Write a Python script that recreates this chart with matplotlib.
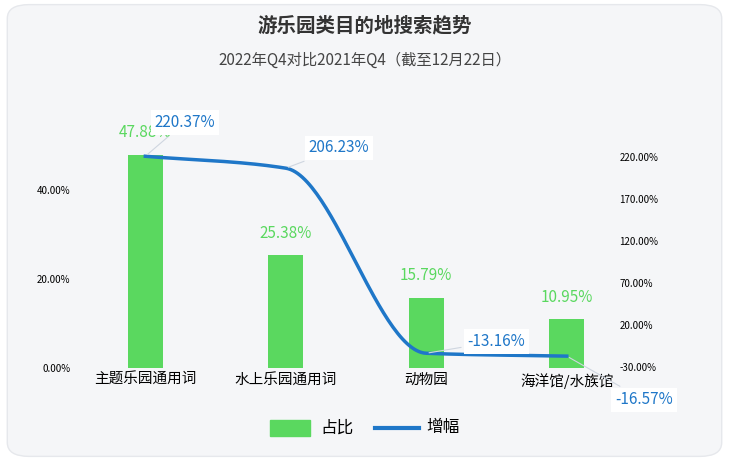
import numpy as np
import matplotlib.pyplot as plt
from matplotlib.patches import FancyBboxPatch

plt.rcParams['font.family'] = ['Noto Sans CJK SC', 'DejaVu Sans']

categories = ['主题乐园通用词', '水上乐园通用词', '动物园', '海洋馆/水族馆']
share = [47.88, 25.38, 15.79, 10.95]
growth = [220.37, 206.23, -13.16, -16.57]
left_ticks = [0, 20, 40]
right_ticks = [-30, 20, 70, 120, 170, 220]

green = '#5ad85f'
blue = '#1f77c8'

fig = plt.figure(figsize=(7.29, 4.61), dpi=100)
fig.patch.set_facecolor('white')
fig.patches.append(FancyBboxPatch((0.01, 0.01), 0.98, 0.98, boxstyle='round,pad=0,rounding_size=0.03',
                                  transform=fig.transFigure, fc='#f5f6f8', ec='#e6e8ec', zorder=-10))
ax = fig.add_axes([0.103, 0.202, 0.74, 0.473])
ax.set_facecolor('none')
x = np.arange(len(categories))
ax.bar(x, share, width=0.25, color=green, zorder=2)
ax.set_xlim(-0.5, 3.34)
ax.set_ylim(0, 49)
ax.set_yticks(left_ticks)
ax.set_yticklabels([f'{t:.2f}%' for t in left_ticks], fontsize=7)
ax.set_xticks(x)
ax.set_xticklabels(categories, fontsize=10.5)
for s in ax.spines.values():
    s.set_visible(False)
ax.tick_params(length=0)
for xi, v in zip(x, share):
    ax.text(xi, v + 3, f'{v:.2f}%', ha='center', va='bottom', color=green, fontsize=11)

ax2 = ax.twinx()
ax2.set_ylim(-30.5, 228)
ax2.set_yticks(right_ticks)
ax2.set_yticklabels([f'{t:.2f}%' for t in right_ticks], fontsize=7)
for s in ax2.spines.values():
    s.set_visible(False)
ax2.tick_params(length=0)

# monotone cubic (Fritsch-Carlson) interpolation for the smooth line
y = np.array(growth, dtype=float)
xf = x.astype(float)
dk = np.diff(y) / np.diff(xf)
m = np.zeros(len(y))
m[0], m[-1] = dk[0], dk[-1]
for i in range(1, len(y) - 1):
    m[i] = 0 if dk[i - 1] * dk[i] <= 0 else 2 / (1 / dk[i - 1] + 1 / dk[i])
xs, ys = [], []
for i in range(len(y) - 1):
    t = np.linspace(0, 1, 60)
    h00 = 2 * t**3 - 3 * t**2 + 1; h10 = t**3 - 2 * t**2 + t
    h01 = -2 * t**3 + 3 * t**2; h11 = t**3 - t**2
    xs.append(xf[i] + t)
    ys.append(h00 * y[i] + h10 * m[i] + h01 * y[i + 1] + h11 * m[i + 1])
ax2.plot(np.concatenate(xs), np.concatenate(ys), color=blue, lw=2.5, zorder=3, clip_on=False)

offsets = [(0.28, 40), (0.38, 24), (0.5, 14), (0.55, -52)]
for xi, v, (dx, dy) in zip(x, growth, offsets):
    ax2.annotate(f'{v:.2f}%', xy=(xi, v), xytext=(xi + dx, v + dy), ha='center', va='center',
                 color=blue, fontsize=11, annotation_clip=False,
                 bbox=dict(boxstyle='square,pad=0.25', fc='white', ec='none'),
                 arrowprops=dict(arrowstyle='-', color='#cfd6e0', lw=0.8))

fig.text(0.5, 0.945, '游乐园类目的地搜索趋势', ha='center', va='center', fontsize=14, weight='bold', color='#333333')
fig.text(0.5, 0.87, '2022年Q4对比2021年Q4（截至12月22日）', ha='center', va='center', fontsize=11, color='#444444')

fig.patches.append(plt.Rectangle((0.37, 0.055), 0.055, 0.035, transform=fig.transFigure, color=green))
fig.text(0.44, 0.072, '占比', va='center', fontsize=12)
fig.lines.append(plt.Line2D([0.515, 0.575], [0.072, 0.072], transform=fig.transFigure, color=blue, lw=3))
fig.text(0.585, 0.072, '增幅', va='center', fontsize=12)

fig.savefig('out.png', dpi=100)
